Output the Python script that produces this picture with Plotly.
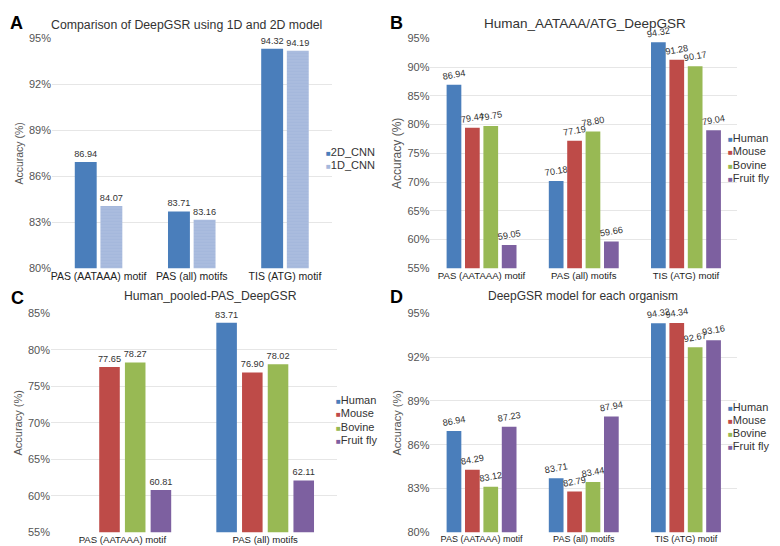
import plotly.graph_objects as go

# ---------------- data ----------------
cats3 = ["PAS (AATAAA) motif", "PAS (all) motifs", "TIS (ATG) motif"]
cats2 = ["PAS (AATAAA) motif", "PAS (all) motifs"]

a_2d = [86.94, 83.71, 94.32]
a_1d = [84.07, 83.16, 94.19]

b_human = [86.94, 70.18, 94.32]
b_mouse = [79.44, 77.19, 91.28]
b_bovine = [79.75, 78.80, 90.17]
b_fly = [59.05, 59.66, 79.04]

c_human = [None, 83.71]
c_mouse = [77.65, 76.90]
c_bovine = [78.27, 78.02]
c_fly = [60.81, 62.11]

d_human = [86.94, 83.71, 94.32]
d_mouse = [84.29, 82.79, 94.34]
d_bovine = [83.12, 83.44, 92.67]
d_fly = [87.23, 87.94, 93.16]

ticks_a = [80, 83, 86, 89, 92, 95]
ticks_b = [55, 60, 65, 70, 75, 80, 85, 90, 95]
ticks_c = [55, 60, 65, 70, 75, 80, 85]
ticks_d = [80, 83, 86, 89, 92, 95]

titles = ["Comparison of DeepGSR using 1D and 2D model",
          "Human_AATAAA/ATG_DeepGSR",
          "Human_pooled-PAS_DeepGSR",
          "DeepGSR model for each organism"]
letters = ["A", "B", "C", "D"]

# ---------------- style ----------------
W, H = 780, 546
BLUE, RED, GREEN, PURPLE = "#4A7EBB", "#BE4B48", "#98B954", "#7D60A0"
LIGHT = "#A5B8DC"
FONT = "Liberation Sans, Arial, sans-serif"
LBL = dict(family=FONT, size=9.2, color="#333333")


def px(x):
    return x / W


def py(y):
    return 1 - y / H


fig = go.Figure()


def add_bar(name, xs, ys, color, ax, angle=0, **kw):
    fig.add_trace(go.Bar(
        name=name, x=xs, y=ys, marker=dict(color=color, line=dict(width=0)),
        text=[None if v is None else f"{v:.2f}" for v in ys],
        textposition="outside", textangle=angle, constraintext="none",
        cliponaxis=False, textfont=LBL, showlegend=False,
        xaxis="x" + ax, yaxis="y" + ax, **kw))


species = [("Human", BLUE), ("Mouse", RED), ("Bovine", GREEN), ("Fruit fly", PURPLE)]

# Panel A
add_bar("2D_CNN", cats3, a_2d, BLUE, "", width=0.235, offset=-0.255)
add_bar("1D_CNN", cats3, a_1d, LIGHT, "", width=0.235, offset=0.02)
fig.data[-1].marker.pattern = dict(shape="-", fgcolor="#B9C8E4", size=3, solidity=0.3)

# Panel B
for (nm, c), v in zip(species, [b_human, b_mouse, b_bovine, b_fly]):
    add_bar(nm, cats3, v, c, "2", angle=-10)

# Panel C
for (nm, c), v in zip(species, [c_human, c_mouse, c_bovine, c_fly]):
    add_bar(nm, cats2, v, c, "3")

# Panel D
for (nm, c), v in zip(species, [d_human, d_mouse, d_bovine, d_fly]):
    add_bar(nm, cats3, v, c, "4", angle=-10)

# axes domains (pixel -> paper)
panels = {
    "": dict(xd=[43, 323], yd=[25, 260], rng=[80, 95], tv=ticks_a, xf=10.5, yt=10.5),
    "2": dict(xd=[422, 729], yd=[25, 260], rng=[55, 95], tv=ticks_b, xf=9.6, yt=12),
    "3": dict(xd=[42, 328], yd=[306, 530], rng=[55, 85], tv=ticks_c, xf=9.6, yt=11),
    "4": dict(xd=[422, 729], yd=[306, 530], rng=[80, 95], tv=ticks_d, xf=9.0, yt=11),
}

for k, p in panels.items():
    xd, yd = p["xd"], p["yd"]
    fig.layout["xaxis" + k] = dict(
        domain=[px(xd[0]), px(xd[1])], anchor="y" + k, type="category",
        showgrid=False, showline=False, ticks="",
        tickfont=dict(family=FONT, size=p["xf"], color="#222222"))
    fig.layout["yaxis" + k] = dict(
        domain=[py(yd[1]), py(yd[0])], anchor="x" + k, range=p["rng"],
        tickmode="array", tickvals=p["tv"], ticktext=[f"{v}%" for v in p["tv"]],
        showgrid=True, gridcolor="#E6E6E6",
        gridwidth=1, zeroline=False, showline=False,
        tickfont=dict(family=FONT, size=11, color="#555555"),
        title=dict(text="Accuracy (%)", standoff=3,
                   font=dict(family=FONT, size=p["yt"], color="#555555")))

anns = []
title_pos = [(178, 11, 12.3), (577, 10, 13.5), (202, 288, 12.2), (575, 288, 12)]
for t, (x, y, s) in zip(titles, title_pos):
    anns.append(dict(text=t, x=px(x), y=py(y), xref="paper", yref="paper",
                     showarrow=False, xanchor="center", yanchor="middle",
                     font=dict(family=FONT, size=s, color="#333333")))
letter_pos = [(8, 9), (388, 9), (9, 290), (388, 289)]
for t, (x, y) in zip(letters, letter_pos):
    anns.append(dict(text=f"<b>{t}</b>", x=px(x), y=py(y), xref="paper", yref="paper",
                     showarrow=False, xanchor="center", yanchor="middle",
                     font=dict(family=FONT, size=18, color="#000000")))

# compact Excel-style legends (one per panel), built from the traces themselves
legend_spec = [  # (axis key, left x px, first-entry y px, row step px, font size)
    ("", 316, 141, 13, 11),
    ("2", 719, 127, 13.5, 11),
    ("3", 326, 395, 13.4, 11),
    ("4", 719, 402, 13.2, 11),
]
for k, lx, ly, step, fs in legend_spec:
    trs = [t for t in fig.data if t.xaxis == "x" + k]
    for i, t in enumerate(trs):
        col = t.marker.color
        anns.append(dict(
            text=f"<span style='color:{col};font-size:8px'>■</span>{t.name}",
            x=px(lx), y=py(ly + i * step), xref="paper", yref="paper",
            showarrow=False, xanchor="left", yanchor="middle", borderpad=0,
            font=dict(family=FONT, size=fs, color="#333333")))

fig.update_layout(
    width=W, height=H, margin=dict(l=0, r=0, t=0, b=0),
    paper_bgcolor="white", plot_bgcolor="white",
    barmode="group", bargap=0.28, bargroupgap=0.2,
    annotations=anns, showlegend=False,
)

fig.write_html("out.html")
